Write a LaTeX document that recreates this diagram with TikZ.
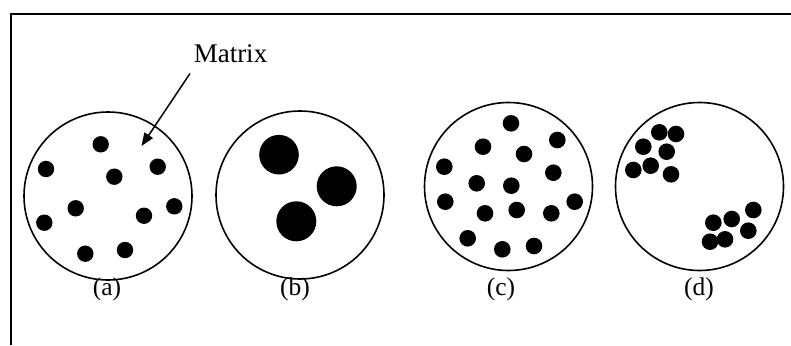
\documentclass[tikz,border=0pt]{standalone}
\usepackage{fontspec}
\setmainfont{Liberation Serif}
\usetikzlibrary{arrows.meta}
\begin{document}
\begin{tikzpicture}[x=1pt,y=-1pt,
  frameline/.style={line width=2pt},
  vessel/.style={draw,circle,line width=1.6pt,minimum size=168pt,inner sep=0pt},
  lab/.style={font=\fontsize{25.5}{25.5}\selectfont,inner sep=0pt},
  dot/.style={fill=black}]
\useasboundingbox (0,0) rectangle (791,345);
\draw[frameline] (11,345) -- (11,14) -- (791,14);
% circles
\node[vessel] (ca) at (108,196) {};
\node[vessel] (cb) at (300,195) {};
\node[vessel] (cc) at (508.5,186.5) {};
\node[vessel] (cd) at (699.5,186.5) {};
% labels
\node[lab] (la) at (107,289) {(a)};
\node[lab] (lb) at (295,289) {(b)};
\node[lab] (lc) at (501,289) {(c)};
\node[lab] (ld) at (699,289) {(d)};
\node[lab,font=\fontsize{27}{27}\selectfont] (mx) at (230.5,54) {Matrix};
\coordinate (mstart) at (190,73.5);
\coordinate (mtip) at (141.5,146);
\draw[line width=1.5pt,-{Triangle[length=13pt,width=10pt]}] (mstart) -- (mtip);
% dots (a)
\foreach \x/\y in {100.7/144.3, 46/169, 114.3/176.7, 157.7/166.7, 75.7/208.3, 44.3/222.7, 144/215.7, 174.3/206.3, 85.3/253.7, 125/250}
  \fill[dot] (\x,\y) circle (8.2pt);
% dots (b)
\fill[dot] (279,154.7) circle (19.8pt);
\fill[dot] (336.7,186.3) circle (20pt);
\fill[dot] (296.3,221.3) circle (20pt);
% dots (c)
\foreach \x/\y in {511/123.3, 557.3/140, 483/146.7, 524/154, 444.3/166.7, 553.3/172.7, 476.7/183.3, 511.3/185.7, 445.3/201.7, 574.7/201.7, 485/213.3, 516.7/210, 551.3/213.3, 467.7/238.3, 502.3/249.3, 534/246}
  \fill[dot] (\x,\y) circle (8.3pt);
% dots (d)
\foreach \x/\y in {659.3/132.3, 676/134, 643.3/146.7, 666.7/151.7, 633.3/170, 650.7/165.7, 671/174.3, 753.3/210, 713.3/222.7, 731.7/219, 748.3/230.7, 710/241.7, 725/239.3}
  \fill[dot] (\x,\y) circle (8.3pt);
\end{tikzpicture}
\end{document}
